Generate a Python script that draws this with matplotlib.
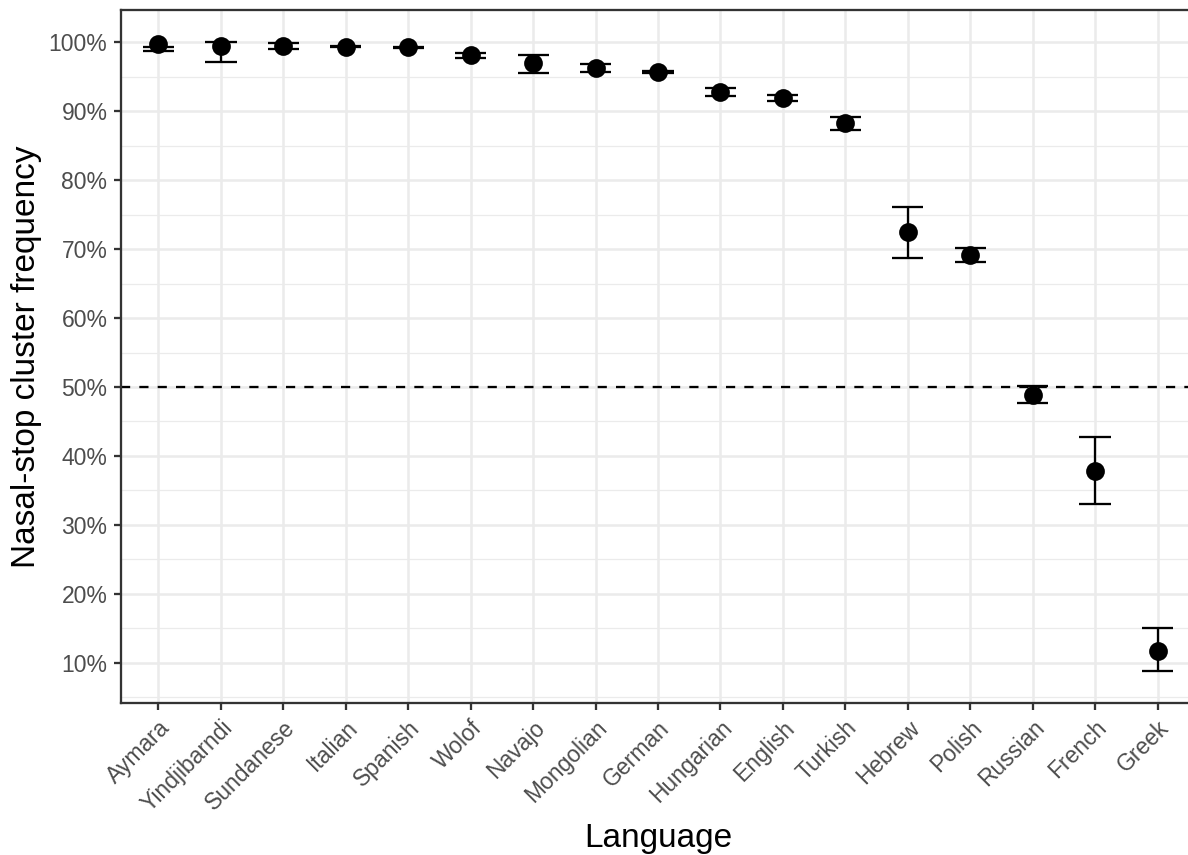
import matplotlib
matplotlib.use("Agg")
import matplotlib.pyplot as plt
from matplotlib.ticker import FixedLocator, PercentFormatter

languages = ["Aymara", "Yindjibarndi", "Sundanese", "Italian", "Spanish", "Wolof",
             "Navajo", "Mongolian", "German", "Hungarian", "English", "Turkish",
             "Hebrew", "Polish", "Russian", "French", "Greek"]
freq = [99.8, 99.5, 99.5, 99.4, 99.3, 98.1, 97.0, 96.3, 95.7, 92.8, 91.9, 88.3,
        72.5, 69.1, 48.8, 37.8, 11.7]
lower = [98.7, 97.1, 99.1, 99.3, 99.2, 97.8, 95.5, 95.7, 95.5, 92.2, 91.5, 87.3,
         68.7, 68.1, 47.7, 33.1, 8.8]
upper = [99.3, 100.1, 99.85, 99.5, 99.4, 98.5, 98.2, 96.9, 95.8, 93.4, 92.3, 89.2,
         76.1, 70.2, 50.1, 42.8, 15.0]
y_ticks = [10, 20, 30, 40, 50, 60, 70, 80, 90, 100]
threshold = 50

plt.rcParams["font.family"] = ["Liberation Sans", "DejaVu Sans"]

W, H = 1188, 855
fig = plt.figure(figsize=(W / 150, H / 150), dpi=150)
left, right, top, bottom = 121, 1195, 10, 702.7
ax = fig.add_axes([left / W, (H - bottom) / H, (right - left) / W, (bottom - top) / H])

x = list(range(1, len(languages) + 1))
grid_c = "#EBEBEB"

ax.set_xlim(0.4, len(languages) + 0.6)
ax.set_ylim(4.2, 104.7)

ax.yaxis.set_major_locator(FixedLocator(y_ticks))
ax.yaxis.set_minor_locator(FixedLocator([t + 5 for t in [0] + y_ticks]))
ax.yaxis.set_major_formatter(PercentFormatter(decimals=0))
ax.set_xticks(x)
ax.set_xticklabels(languages, rotation=45, ha="right", va="top",
                   rotation_mode="anchor")

ax.grid(True, which="major", color=grid_c, linewidth=1.2)
ax.grid(True, which="minor", axis="y", color=grid_c, linewidth=0.6)
ax.set_axisbelow(True)

ax.axhline(threshold, color="black", linewidth=1.1, dashes=(4, 4), zorder=2)

half_w = 0.25
ax.vlines(x, lower, upper, color="black", linewidth=1.1, zorder=3)
ax.hlines(lower, [i - half_w for i in x], [i + half_w for i in x],
          color="black", linewidth=1.1, zorder=3)
ax.hlines(upper, [i - half_w for i in x], [i + half_w for i in x],
          color="black", linewidth=1.1, zorder=3)
ax.plot(x, freq, "o", color="black", markersize=8, zorder=4)

for s in ax.spines.values():
    s.set_color("#333333")
    s.set_linewidth(1.1)

ax.tick_params(axis="both", which="major", length=3.5, width=1.1, color="#333333",
               labelcolor="#4D4D4D", labelsize=11, pad=3)
ax.tick_params(axis="y", which="minor", length=0)

ax.set_xlabel("Language", fontsize=16, color="black", labelpad=3)
ax.set_ylabel("Nasal-stop cluster frequency", fontsize=16, color="black", labelpad=3)

fig.savefig("out.png", dpi=150)
